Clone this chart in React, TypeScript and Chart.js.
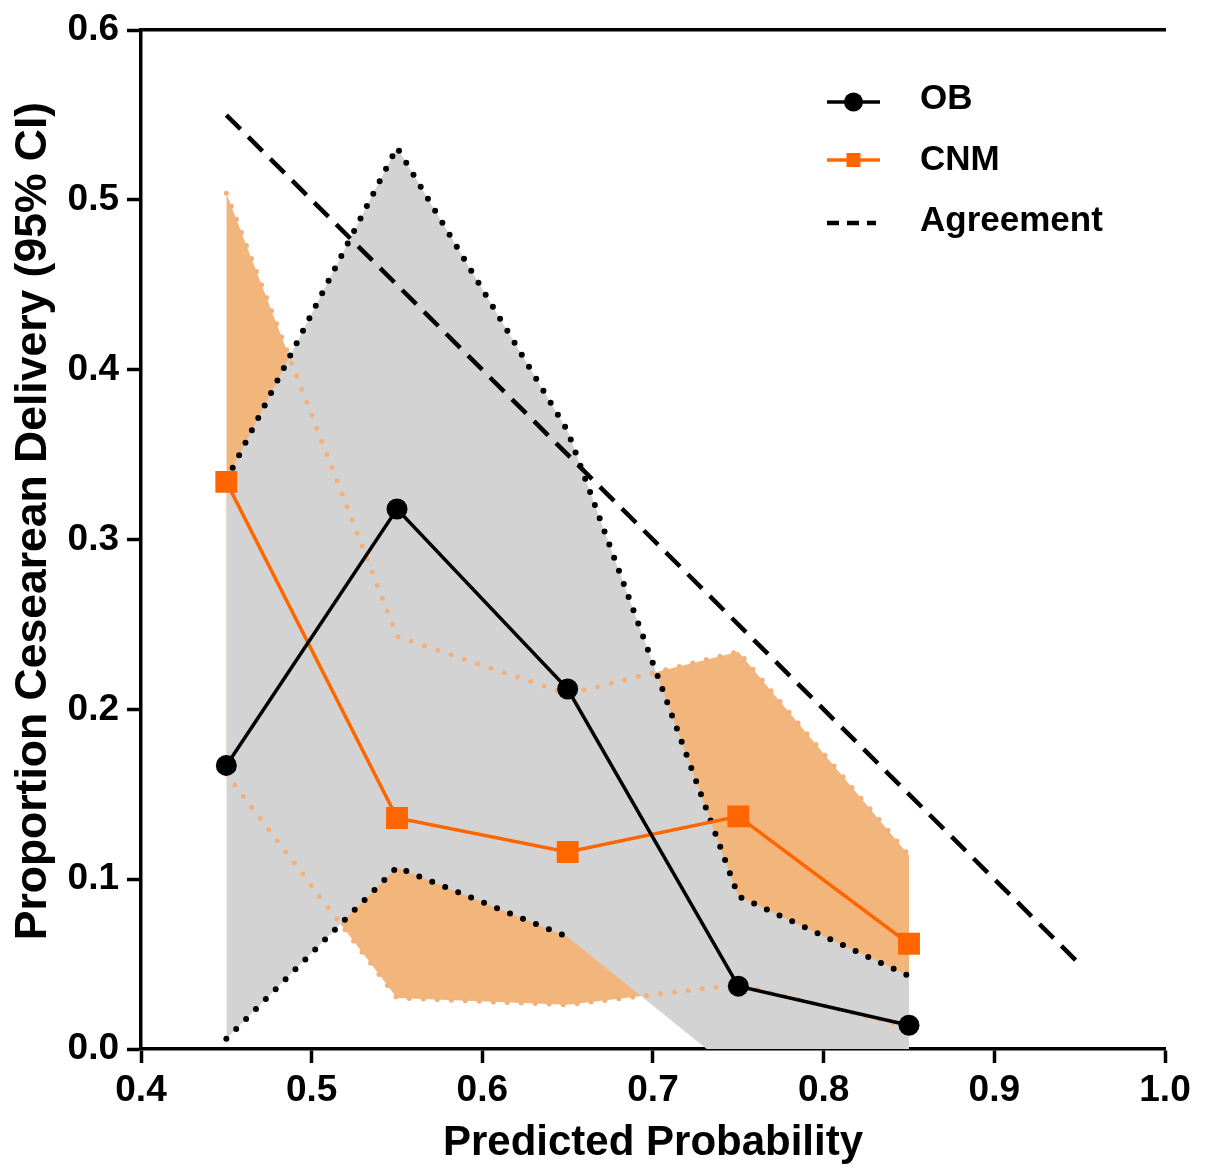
import React, { useEffect, useRef } from 'react';
import { Chart, registerables } from 'chart.js';

Chart.register(...registerables);

// ---- data ----
const predicted = [0.45, 0.55, 0.65, 0.75, 0.85];
const obProportion = [0.167, 0.318, 0.212, 0.037, 0.014];
const obUpper = [0.335, 0.531, 0.364, 0.09, 0.043];
const obLower = [0.006, 0.107, 0.066, -0.015, -0.025];
const cnmProportion = [0.334, 0.136, 0.116, 0.137, 0.062];
const cnmUpper = [0.504, 0.243, 0.209, 0.234, 0.114];
const cnmLower = [0.162, 0.03, 0.026, 0.038, 0.013];
const agreementX = [0.45, 0.95];
const agreementY = [0.55, 0.05];
const xTicks = [0.4, 0.5, 0.6, 0.7, 0.8, 0.9, 1.0];
const yTicks = [0.0, 0.1, 0.2, 0.3, 0.4, 0.5, 0.6];
const legendLabels = ['OB', 'CNM', 'Agreement'];
const xTitle = 'Predicted Probability';
const yTitle = 'Proportion Cesearean Delivery (95% CI)';

const FONT = '"Liberation Sans", Arial, sans-serif';
const BLACK = '#000000';
const ORANGE = '#FF6600';
const ORANGE_FILL = '#F2B67C';
const ORANGE_DOT = '#F4B07A';
const GREY_FILL = '#D3D3D3';

const pts = (xs: number[], ys: number[]) => xs.map((x, i) => ({ x, y: ys[i] }));

const insideLegend = {
  id: 'insideLegend',
  afterDraw(chart: any) {
    const ctx = chart.ctx as CanvasRenderingContext2D;
    const x0 = 827;
    const x1 = 880;
    const xm = (x0 + x1) / 2;
    const textX = 920;
    const symY = [102, 160, 223];
    const baseY = [109, 170, 231];
    ctx.save();
    // OB
    ctx.strokeStyle = BLACK;
    ctx.lineWidth = 3.5;
    ctx.beginPath();
    ctx.moveTo(x0, symY[0]);
    ctx.lineTo(x1, symY[0]);
    ctx.stroke();
    ctx.fillStyle = BLACK;
    ctx.beginPath();
    ctx.arc(xm, symY[0], 9.5, 0, Math.PI * 2);
    ctx.fill();
    // CNM
    ctx.strokeStyle = ORANGE;
    ctx.lineWidth = 3.5;
    ctx.beginPath();
    ctx.moveTo(x0, symY[1]);
    ctx.lineTo(x1, symY[1]);
    ctx.stroke();
    ctx.fillStyle = ORANGE;
    ctx.fillRect(xm - 7, symY[1] - 7, 14, 14);
    // Agreement
    ctx.strokeStyle = BLACK;
    ctx.lineWidth = 4.5;
    ctx.setLineDash([12, 8]);
    ctx.beginPath();
    ctx.moveTo(x0, symY[2]);
    ctx.lineTo(x1 - 4, symY[2]);
    ctx.stroke();
    ctx.setLineDash([]);
    // texts
    ctx.fillStyle = BLACK;
    ctx.font = `bold 35px ${FONT}`;
    ctx.textAlign = 'left';
    ctx.textBaseline = 'alphabetic';
    legendLabels.forEach((t, i) => ctx.fillText(t, textX, baseY[i]));
    ctx.restore();
  },
};

export default function App() {
  const ref = useRef<HTMLCanvasElement | null>(null);

  useEffect(() => {
    if (!ref.current) return;
    const tickFont = { family: FONT, size: 37, weight: 'bold' as const };
    const dotted = {
      borderWidth: 6,
      borderDash: [0, 14],
      borderCapStyle: 'round' as const,
      pointRadius: 0,
      fill: false,
    };
    const chart = new Chart(ref.current, {
      type: 'line',
      data: {
        datasets: [
          {
            label: 'OB',
            data: pts(predicted, obProportion),
            borderColor: BLACK,
            backgroundColor: BLACK,
            borderWidth: 3.5,
            pointStyle: 'circle',
            pointRadius: 10.5,
            pointBorderWidth: 0,
            pointBackgroundColor: BLACK,
            fill: false,
            order: 1,
          },
          {
            label: 'CNM',
            data: pts(predicted, cnmProportion),
            borderColor: ORANGE,
            backgroundColor: ORANGE,
            borderWidth: 3.5,
            pointStyle: 'rect',
            pointRadius: 15.5,
            pointBorderWidth: 0,
            pointBackgroundColor: ORANGE,
            fill: false,
            order: 2,
          },
          {
            label: 'Agreement',
            data: pts(agreementX, agreementY),
            borderColor: BLACK,
            borderWidth: 4.5,
            borderDash: [20, 11],
            pointRadius: 0,
            fill: false,
            order: 3,
          },
          {
            label: 'OB upper',
            data: pts(predicted, obUpper),
            borderColor: BLACK,
            ...dotted,
            order: 4,
          },
          {
            label: 'OB lower',
            data: pts(predicted, obLower),
            borderColor: BLACK,
            ...dotted,
            segment: {
              borderColor: (c: any) => (c.p0DataIndex >= 2 ? 'rgba(0,0,0,0)' : BLACK),
            },
            order: 4,
          },
          {
            label: 'CNM upper',
            data: pts(predicted, cnmUpper),
            borderColor: ORANGE_DOT,
            ...dotted,
            borderWidth: 5,
            order: 5,
          },
          {
            label: 'CNM lower',
            data: pts(predicted, cnmLower),
            borderColor: ORANGE_DOT,
            ...dotted,
            borderWidth: 5,
            order: 5,
          },
          {
            label: 'OB band',
            data: pts(predicted, obUpper),
            borderWidth: 0,
            borderColor: 'rgba(0,0,0,0)',
            backgroundColor: GREY_FILL,
            pointRadius: 0,
            fill: '+1',
            order: 6,
          },
          {
            label: 'OB band base',
            data: pts(predicted, obLower),
            borderWidth: 0,
            borderColor: 'rgba(0,0,0,0)',
            pointRadius: 0,
            fill: false,
            order: 6,
          },
          {
            label: 'CNM band',
            data: pts(predicted, cnmUpper),
            borderWidth: 0,
            borderColor: 'rgba(0,0,0,0)',
            backgroundColor: ORANGE_FILL,
            pointRadius: 0,
            fill: '+1',
            order: 7,
          },
          {
            label: 'CNM band base',
            data: pts(predicted, cnmLower),
            borderWidth: 0,
            borderColor: 'rgba(0,0,0,0)',
            pointRadius: 0,
            fill: false,
            order: 7,
          },
        ],
      },
      options: {
        animation: false,
        responsive: true,
        maintainAspectRatio: false,
        layout: { padding: { top: 27, right: 42, left: 0, bottom: 0 } },
        elements: { line: { tension: 0 } },
        plugins: {
          legend: { display: false },
          tooltip: { enabled: false },
        },
        scales: {
          x: {
            type: 'linear',
            min: 0.4,
            max: 1.0,
            afterBuildTicks: (s: any) => {
              s.ticks = xTicks.map((v) => ({ value: v }));
            },
            afterFit: (s: any) => {
              s.height = 122;
            },
            ticks: {
              font: tickFont,
              color: BLACK,
              padding: 6,
              maxRotation: 0,
              autoSkip: false,
              callback: (v: any) => Number(v).toFixed(1),
            },
            grid: {
              drawOnChartArea: false,
              tickLength: 14,
              tickWidth: 3.5,
              tickColor: BLACK,
            },
            border: { color: BLACK, width: 3.5 },
            title: {
              display: true,
              text: xTitle,
              color: BLACK,
              font: { family: FONT, size: 42, weight: 'bold' },
              padding: { top: 0, bottom: 2 },
            },
          },
          xTop: {
            type: 'linear',
            position: 'top',
            min: 0.4,
            max: 1.0,
            afterFit: (s: any) => {
              s.height = 0;
            },
            ticks: { display: false },
            grid: { drawOnChartArea: false, drawTicks: false },
            border: { color: BLACK, width: 3.5 },
          },
          y: {
            min: 0,
            max: 0.6,
            afterBuildTicks: (s: any) => {
              s.ticks = yTicks.map((v) => ({ value: v }));
            },
            afterFit: (s: any) => {
              s.width = 141;
            },
            ticks: {
              font: tickFont,
              color: BLACK,
              padding: 8,
              autoSkip: false,
              callback: (v: any) => Number(v).toFixed(1),
            },
            grid: {
              drawOnChartArea: false,
              tickLength: 14,
              tickWidth: 3.5,
              tickColor: BLACK,
            },
            border: { color: BLACK, width: 3.5 },
            title: {
              display: true,
              text: '   ' + yTitle,
              color: BLACK,
              font: { family: FONT, size: 44.5, weight: 'bold' },
              padding: { top: 7, bottom: 0 },
            },
          },
        },
      },
      plugins: [insideLegend],
    });
    return () => chart.destroy();
  }, []);

  return (
    <div style={{ position: 'absolute', left: 0, top: 0, width: 1207, height: 1171 }}>
      <canvas ref={ref} />
    </div>
  );
}
